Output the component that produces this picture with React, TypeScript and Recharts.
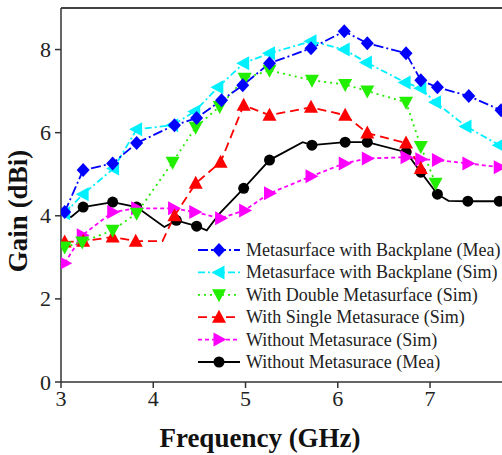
import React from 'react';
import { LineChart, Line, XAxis, YAxis, ReferenceLine } from 'recharts';

type Pt = { f: number; g: number; m?: boolean };

const xTicks = [3, 4, 5, 6, 7];
const yTicks = [0, 2, 4, 6, 8];

const backplaneMea: Pt[] = [
  { f: 3.04, g: 4.09 }, { f: 3.24, g: 5.1 }, { f: 3.56, g: 5.26 }, { f: 3.82, g: 5.75 },
  { f: 4.23, g: 6.18 }, { f: 4.47, g: 6.35 }, { f: 4.74, g: 6.78 }, { f: 4.97, g: 7.14 },
  { f: 5.26, g: 7.67 }, { f: 5.71, g: 8.03 }, { f: 6.07, g: 8.44 }, { f: 6.32, g: 8.15 },
  { f: 6.74, g: 7.91 }, { f: 6.9, g: 7.26 }, { f: 7.08, g: 7.09 }, { f: 7.42, g: 6.88 },
  { f: 7.77, g: 6.54 },
];

const backplaneSim: Pt[] = [
  { f: 3.04, g: 4.06 }, { f: 3.24, g: 4.52 }, { f: 3.57, g: 5.14 }, { f: 3.82, g: 6.08 },
  { f: 4.21, g: 6.18 }, { f: 4.45, g: 6.51 }, { f: 4.7, g: 7.09 }, { f: 4.98, g: 7.67 },
  { f: 5.26, g: 7.91 }, { f: 5.71, g: 8.2 }, { f: 6.07, g: 8.0 }, { f: 6.31, g: 7.69 },
  { f: 6.73, g: 7.21 }, { f: 6.9, g: 7.07 }, { f: 7.06, g: 6.73 }, { f: 7.39, g: 6.15 },
  { f: 7.75, g: 5.7 },
];

const doubleSim: Pt[] = [
  { f: 3.04, g: 3.25 }, { f: 3.23, g: 3.37 }, { f: 3.56, g: 3.65 }, { f: 3.82, g: 4.06 },
  { f: 4.21, g: 5.29 }, { f: 4.46, g: 6.13 }, { f: 4.72, g: 6.63 }, { f: 4.99, g: 7.31 },
  { f: 5.26, g: 7.5 }, { f: 5.72, g: 7.26 }, { f: 6.08, g: 7.16 }, { f: 6.32, g: 7.0 },
  { f: 6.74, g: 6.73 }, { f: 6.9, g: 5.67 }, { f: 7.06, g: 4.78 },
];

const singleSim: Pt[] = [
  { f: 3.04, g: 3.37 }, { f: 3.24, g: 3.39 }, { f: 3.56, g: 3.49 }, { f: 3.81, g: 3.39 },
  { f: 4.1, g: 3.39, m: false }, { f: 4.23, g: 4.0 }, { f: 4.46, g: 4.78 }, { f: 4.73, g: 5.29 },
  { f: 4.98, g: 6.66 }, { f: 5.26, g: 6.42 }, { f: 5.71, g: 6.61 }, { f: 6.08, g: 6.42 },
  { f: 6.32, g: 5.99 }, { f: 6.74, g: 5.75 }, { f: 6.9, g: 5.14 },
];

const withoutSim: Pt[] = [
  { f: 3.04, g: 2.86 }, { f: 3.23, g: 3.53 }, { f: 3.56, g: 4.09 }, { f: 3.82, g: 4.18 },
  { f: 4.22, g: 4.18 }, { f: 4.45, g: 4.09 }, { f: 4.73, g: 3.94 }, { f: 4.99, g: 4.13 },
  { f: 5.26, g: 4.54 }, { f: 5.71, g: 4.95 }, { f: 6.07, g: 5.26 }, { f: 6.32, g: 5.38 },
  { f: 6.74, g: 5.41 }, { f: 6.9, g: 5.36 }, { f: 7.08, g: 5.34 }, { f: 7.41, g: 5.26 },
  { f: 7.75, g: 5.17 },
];

const withoutMea: Pt[] = [
  { f: 3.02, g: 4.03, m: false }, { f: 3.11, g: 3.97, m: false }, { f: 3.24, g: 4.21 },
  { f: 3.56, g: 4.33 }, { f: 3.82, g: 4.21 }, { f: 4.12, g: 3.73, m: false }, { f: 4.25, g: 3.89 },
  { f: 4.47, g: 3.75 }, { f: 4.58, g: 3.65, m: false }, { f: 4.72, g: 4.06, m: false },
  { f: 4.98, g: 4.66 }, { f: 5.26, g: 5.34 }, { f: 5.62, g: 5.77, m: false }, { f: 5.72, g: 5.7 },
  { f: 6.08, g: 5.77 }, { f: 6.32, g: 5.77 }, { f: 6.74, g: 5.53 }, { f: 6.9, g: 5.05 },
  { f: 7.08, g: 4.52 }, { f: 7.2, g: 4.36, m: false }, { f: 7.41, g: 4.35 }, { f: 7.75, g: 4.35 },
];

type Shape = 'diamond' | 'left' | 'down' | 'up' | 'right' | 'circle';

const SERIES: { name: string; data: Pt[]; color: string; dash?: string; shape: Shape }[] = [
  { name: 'Metasurface with Backplane (Mea)', data: backplaneMea, color: '#0000FF', dash: '10 3 2 3', shape: 'diamond' },
  { name: 'Metasurface with Backplane (Sim)', data: backplaneSim, color: '#00F0FF', dash: '7 3 2 3', shape: 'left' },
  { name: 'With Double Metasurface (Sim)', data: doubleSim, color: '#22EE00', dash: '2 4', shape: 'down' },
  { name: 'With Single Metasurace (Sim)', data: singleSim, color: '#FF0000', dash: '9 5', shape: 'up' },
  { name: 'Without Metasurace (Sim)', data: withoutSim, color: '#FF00FF', dash: '4 3', shape: 'right' },
  { name: 'Without Metasurace (Mea)', data: withoutMea, color: '#000000', shape: 'circle' },
];

const FONT = 'Liberation Serif';

function markerPoints(shape: Shape, cx: number, cy: number) {
  switch (shape) {
    case 'diamond':
      return `${cx},${cy - 7} ${cx + 6.5},${cy} ${cx},${cy + 7} ${cx - 6.5},${cy}`;
    case 'left':
      return `${cx - 7.5},${cy} ${cx + 5.5},${cy - 7} ${cx + 5.5},${cy + 7}`;
    case 'right':
      return `${cx + 7.5},${cy} ${cx - 5.5},${cy - 7} ${cx - 5.5},${cy + 7}`;
    case 'down':
      return `${cx - 7},${cy - 5.5} ${cx + 7},${cy - 5.5} ${cx},${cy + 7.5}`;
    case 'up':
      return `${cx - 7},${cy + 5.5} ${cx + 7},${cy + 5.5} ${cx},${cy - 7.5}`;
    default:
      return '';
  }
}

function markerEl(key: string, shape: Shape, cx: number, cy: number, color: string) {
  if (shape === 'circle') return <circle key={key} cx={cx} cy={cy} r={5.5} fill={color} />;
  return <polygon key={key} points={markerPoints(shape, cx, cy)} fill={color} />;
}

function XTick(props: any) {
  const { x, y, payload } = props;
  return (
    <text x={x} y={y + 16} textAnchor="middle" style={{ fontFamily: FONT }} fontSize={22} fill="#222">
      {payload.value}
    </text>
  );
}

function YTick(props: any) {
  const { x, y, payload } = props;
  return (
    <text x={x} y={y + 7.5} textAnchor="end" style={{ fontFamily: FONT }} fontSize={22} fill="#222">
      {payload.value}
    </text>
  );
}

const LEG_X = 190;
const LEG_Y = 250;
const LEG_STEP = 22.4;

export default function App() {
  return (
    <div style={{ position: 'absolute', left: 0, top: 0, width: 502, height: 455, background: '#fff' }}>
      <LineChart width={502} height={455} margin={{ top: 8, right: 0, left: 0, bottom: 0 }}>
        <XAxis
          dataKey="f"
          type="number"
          domain={[3, 7.78]}
          ticks={xTicks}
          allowDataOverflow
          height={73}
          axisLine={{ stroke: '#333', strokeWidth: 1.5 }}
          tickLine={{ stroke: '#333', strokeWidth: 1.5 }}
          tickSize={6}
          tickMargin={2}
          tick={<XTick />}
        />
        <YAxis
          type="number"
          domain={[0, 9]}
          ticks={yTicks}
          width={61}
          axisLine={{ stroke: '#333', strokeWidth: 1.5 }}
          tickLine={{ stroke: '#333', strokeWidth: 1.5 }}
          tickSize={6}
          tickMargin={4}
          tick={<YTick />}
        />
        <ReferenceLine y={9} stroke="#444" strokeWidth={2} />
        {[...SERIES].reverse().map((s) => (
          <Line
            key={s.name}
            data={s.data}
            dataKey="g"
            type="linear"
            stroke={s.color}
            strokeWidth={1.8}
            strokeDasharray={s.dash}
            isAnimationActive={false}
            legendType="none"
            dot={(p: any) =>
              p.payload && p.payload.m === false
                ? <g key={`e${p.index}`} />
                : markerEl(`m${p.index}`, s.shape, p.cx, p.cy, s.color)
            }
            activeDot={false}
          />
        ))}
        {SERIES.map((s, i) => (
          <line key={`ll${i}`} x1={LEG_X + 8} y1={LEG_Y + i * LEG_STEP} x2={LEG_X + 50} y2={LEG_Y + i * LEG_STEP} stroke={s.color} strokeWidth={1.8} strokeDasharray={s.dash} />
        ))}
        {SERIES.map((s, i) => markerEl(`lm${i}`, s.shape, LEG_X + 29, LEG_Y + i * LEG_STEP, s.color))}
        {SERIES.map((s, i) => (
          <text key={`lt${i}`} x={LEG_X + 56} y={LEG_Y + i * LEG_STEP + 6} fontFamily={FONT} fontSize={18} fill="#222">
            {s.name}
          </text>
        ))}
        <text x={260} y={447} textAnchor="middle" fontFamily={FONT} fontWeight="bold" fontSize={27} fill="#111">
          Frequency (GHz)
        </text>
        <text
          x={27}
          y={211}
          textAnchor="middle"
          fontFamily={FONT}
          fontWeight="bold"
          fontSize={27}
          fill="#111"
          transform="rotate(-90, 27, 211)"
        >
          Gain (dBi)
        </text>
      </LineChart>
    </div>
  );
}
